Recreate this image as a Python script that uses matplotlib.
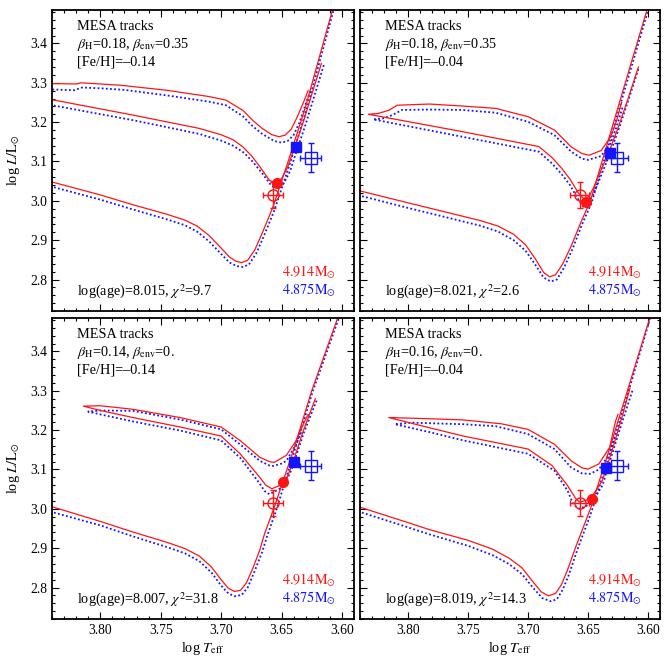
import numpy as np
import matplotlib.pyplot as plt
from matplotlib.ticker import MultipleLocator

plt.rcParams['font.family'] = ['Liberation Serif', 'DejaVu Serif']
plt.rcParams['mathtext.fontset'] = 'stix'

# ------------------------------------------------
# Data (log Teff, log L)
# ------------------------------------------------

# observed components (red = primary, blue = secondary)
obs_teff = [3.657, 3.626]
obs_logl = [3.014, 3.110]
obs_teff_err = [0.008, 0.009]
obs_logl_err = [0.033, 0.037]

# model positions at best age, one per panel
mod_red = [(3.654, 3.046), (3.652, 2.997), (3.649, 3.069), (3.647, 3.026)]
mod_blue = [(3.638, 3.137), (3.632, 3.121), (3.640, 3.118), (3.635, 3.105)]

# panel 1: beta_H=0.18, beta_env=0.35, [Fe/H]=-0.14
p1_red_low = [(3.845, 3.052), (3.80, 3.015), (3.773, 2.990), (3.745, 2.966), (3.730, 2.951),
              (3.720, 2.936), (3.710, 2.912), (3.700, 2.880), (3.693, 2.857), (3.688, 2.847),
              (3.683, 2.843), (3.678, 2.849), (3.672, 2.876), (3.665, 2.925), (3.657, 2.985),
              (3.644, 3.105), (3.630, 3.240), (3.608, 3.4835), (3.600, 3.57)]
p1_blue_low = [(3.845, 3.040), (3.80, 3.003), (3.773, 2.978), (3.745, 2.953), (3.730, 2.938),
               (3.720, 2.922), (3.710, 2.897), (3.700, 2.865), (3.693, 2.843), (3.687, 2.834),
               (3.682, 2.832), (3.677, 2.838), (3.671, 2.866), (3.664, 2.915), (3.656, 2.975),
               (3.643, 3.095), (3.629, 3.235), (3.607, 3.4835), (3.599, 3.57)]
p1_red_loop = [(3.617, 3.349), (3.625, 3.270), (3.632, 3.200), (3.638, 3.146), (3.645, 3.085),
               (3.650, 3.056), (3.655, 3.046), (3.660, 3.052), (3.668, 3.087), (3.675, 3.115),
               (3.682, 3.137), (3.690, 3.155), (3.700, 3.168), (3.718, 3.184), (3.773, 3.218),
               (3.840, 3.257), (3.870, 3.273), (3.870, 3.301), (3.840, 3.298), (3.820, 3.297),
               (3.816, 3.300), (3.800, 3.297), (3.784, 3.294), (3.745, 3.281), (3.710, 3.265),
               (3.696, 3.256), (3.682, 3.230), (3.674, 3.205), (3.666, 3.184), (3.658, 3.168),
               (3.652, 3.163), (3.647, 3.167), (3.642, 3.182), (3.637, 3.213), (3.631, 3.256),
               (3.628, 3.280)]
p1_blue_loop = [(3.615, 3.345), (3.623, 3.265), (3.630, 3.195), (3.636, 3.140), (3.643, 3.075),
                (3.648, 3.045), (3.653, 3.032), (3.658, 3.037), (3.666, 3.070), (3.674, 3.100),
                (3.681, 3.122), (3.690, 3.140), (3.700, 3.153), (3.718, 3.170), (3.773, 3.205),
                (3.840, 3.243), (3.870, 3.258), (3.870, 3.284), (3.840, 3.283), (3.822, 3.281),
                (3.815, 3.288), (3.800, 3.286), (3.780, 3.282), (3.745, 3.268), (3.710, 3.252),
                (3.696, 3.243), (3.682, 3.215), (3.674, 3.190), (3.666, 3.170), (3.656, 3.152),
                (3.650, 3.148), (3.645, 3.152), (3.640, 3.167), (3.635, 3.200), (3.629, 3.255),
                (3.626, 3.280)]

# panel 2: beta_H=0.18, beta_env=0.35, [Fe/H]=-0.04
p2_red_low = [(3.845, 3.029), (3.80, 2.995), (3.760, 2.965), (3.740, 2.950), (3.725, 2.936),
              (3.712, 2.915), (3.702, 2.888), (3.694, 2.853), (3.687, 2.818), (3.682, 2.807),
              (3.677, 2.812), (3.671, 2.840), (3.664, 2.885), (3.656, 2.945), (3.648, 3.000),
              (3.635, 3.134), (3.620, 3.289), (3.601, 3.4835), (3.593, 3.57)]
p2_blue_low = [(3.845, 3.017), (3.80, 2.982), (3.760, 2.952), (3.740, 2.937), (3.725, 2.922),
               (3.712, 2.900), (3.702, 2.873), (3.694, 2.838), (3.687, 2.805), (3.681, 2.795),
               (3.676, 2.800), (3.670, 2.830), (3.663, 2.877), (3.655, 2.940), (3.647, 2.995),
               (3.634, 3.130), (3.619, 3.287), (3.600, 3.4835), (3.592, 3.57)]
p2_red_loop = [(3.608, 3.340), (3.617, 3.256), (3.625, 3.185), (3.633, 3.121), (3.645, 3.036),
               (3.649, 3.012), (3.653, 3.003), (3.658, 3.020), (3.665, 3.055), (3.672, 3.083),
               (3.680, 3.110), (3.691, 3.138), (3.755, 3.176), (3.833, 3.220), (3.825, 3.222),
               (3.816, 3.230), (3.809, 3.243), (3.782, 3.246), (3.755, 3.241), (3.727, 3.235),
               (3.700, 3.214), (3.678, 3.180), (3.664, 3.137), (3.655, 3.120), (3.649, 3.116),
               (3.639, 3.128), (3.631, 3.163), (3.626, 3.205), (3.622, 3.250)]
p2_blue_loop = [(3.608, 3.335), (3.617, 3.250), (3.625, 3.177), (3.633, 3.110), (3.645, 3.020),
                (3.650, 2.993), (3.654, 2.985), (3.658, 3.003), (3.665, 3.040), (3.672, 3.068),
                (3.680, 3.095), (3.691, 3.125), (3.755, 3.163), (3.829, 3.207), (3.820, 3.210),
                (3.813, 3.218), (3.805, 3.231), (3.782, 3.232), (3.755, 3.231), (3.727, 3.224),
                (3.700, 3.201), (3.678, 3.167), (3.664, 3.125), (3.655, 3.107), (3.650, 3.104),
                (3.639, 3.114), (3.631, 3.147), (3.626, 3.190), (3.621, 3.240)]

# panel 3: beta_H=0.14, beta_env=0., [Fe/H]=-0.14
p3_red_low = [(3.845, 3.010), (3.80, 2.968), (3.773, 2.941), (3.745, 2.915), (3.730, 2.899),
              (3.718, 2.880), (3.708, 2.852), (3.700, 2.820), (3.694, 2.798), (3.689, 2.790),
              (3.684, 2.793), (3.679, 2.812), (3.674, 2.847), (3.668, 2.895), (3.664, 2.937),
              (3.656, 3.004), (3.640, 3.150), (3.625, 3.300), (3.604, 3.481), (3.596, 3.56)]
p3_blue_low = [(3.845, 2.996), (3.80, 2.958), (3.773, 2.930), (3.745, 2.903), (3.730, 2.887),
               (3.718, 2.867), (3.708, 2.838), (3.700, 2.805), (3.694, 2.785), (3.689, 2.778),
               (3.683, 2.781), (3.678, 2.800), (3.673, 2.836), (3.666, 2.890), (3.662, 2.930),
               (3.654, 3.000), (3.639, 3.150), (3.624, 3.300), (3.603, 3.481), (3.595, 3.56)]
p3_red_loop = [(3.622, 3.280), (3.632, 3.198), (3.641, 3.114), (3.646, 3.075), (3.652, 3.059),
               (3.658, 3.051), (3.663, 3.060), (3.668, 3.080), (3.684, 3.139), (3.700, 3.185),
               (3.734, 3.208), (3.773, 3.232), (3.800, 3.250), (3.814, 3.261), (3.800, 3.262),
               (3.773, 3.253), (3.734, 3.232), (3.700, 3.208), (3.684, 3.173), (3.668, 3.131),
               (3.660, 3.120), (3.656, 3.118), (3.646, 3.136), (3.638, 3.173), (3.632, 3.215),
               (3.628, 3.240)]
p3_blue_loop = [(3.621, 3.275), (3.632, 3.190), (3.641, 3.105), (3.646, 3.070), (3.652, 3.050),
                (3.660, 3.037), (3.664, 3.045), (3.668, 3.064), (3.684, 3.129), (3.700, 3.174),
                (3.734, 3.199), (3.773, 3.222), (3.800, 3.240), (3.810, 3.247), (3.800, 3.250),
                (3.773, 3.249), (3.734, 3.227), (3.700, 3.202), (3.684, 3.163), (3.668, 3.122),
                (3.660, 3.110), (3.657, 3.109), (3.650, 3.115), (3.646, 3.122), (3.638, 3.164),
                (3.633, 3.200)]

# panel 4: beta_H=0.16, beta_env=0., [Fe/H]=-0.04
p4_red_low = [(3.845, 3.009), (3.80, 2.965), (3.782, 2.947), (3.750, 2.920), (3.730, 2.898),
              (3.716, 2.875), (3.705, 2.850), (3.696, 2.815), (3.689, 2.789), (3.683, 2.779),
              (3.677, 2.785), (3.672, 2.808), (3.667, 2.845), (3.660, 2.905), (3.648, 3.000),
              (3.635, 3.124), (3.620, 3.272), (3.599, 3.480), (3.591, 3.56)]
p4_blue_low = [(3.845, 2.997), (3.80, 2.953), (3.782, 2.935), (3.750, 2.906), (3.730, 2.883),
               (3.716, 2.860), (3.705, 2.834), (3.696, 2.800), (3.688, 2.773), (3.681, 2.765),
               (3.676, 2.770), (3.671, 2.795), (3.666, 2.832), (3.659, 2.895), (3.647, 2.993),
               (3.634, 3.120), (3.619, 3.270), (3.599, 3.476), (3.590, 3.56)]
p4_red_loop = [(3.615, 3.307), (3.621, 3.240), (3.630, 3.148), (3.638, 3.072), (3.648, 3.025),
               (3.657, 3.017), (3.660, 3.025), (3.667, 3.059), (3.680, 3.110), (3.700, 3.152),
               (3.754, 3.185), (3.782, 3.206), (3.816, 3.232), (3.782, 3.229), (3.754, 3.226),
               (3.722, 3.216), (3.700, 3.202), (3.678, 3.164), (3.664, 3.122), (3.655, 3.104),
               (3.650, 3.101), (3.641, 3.114), (3.632, 3.156), (3.627, 3.223), (3.625, 3.240)]
p4_blue_loop = [(3.613, 3.300), (3.620, 3.235), (3.630, 3.139), (3.638, 3.059), (3.648, 3.012),
                (3.657, 3.000), (3.662, 3.010), (3.667, 3.046), (3.678, 3.097), (3.700, 3.140),
                (3.754, 3.174), (3.782, 3.195), (3.811, 3.215), (3.797, 3.219), (3.754, 3.215),
                (3.727, 3.210), (3.700, 3.190), (3.678, 3.152), (3.664, 3.105), (3.655, 3.090),
                (3.648, 3.089), (3.641, 3.100), (3.632, 3.139), (3.628, 3.180)]

panel_lines = [
    ["MESA tracks", r"$\beta_{\rm H}$=0.18, $\beta_{\rm env}$=0.35", "[Fe/H]=\u20130.14"],
    ["MESA tracks", r"$\beta_{\rm H}$=0.18, $\beta_{\rm env}$=0.35", "[Fe/H]=\u20130.04"],
    ["MESA tracks", r"$\beta_{\rm H}$=0.14, $\beta_{\rm env}$=0.", "[Fe/H]=\u20130.14"],
    ["MESA tracks", r"$\beta_{\rm H}$=0.16, $\beta_{\rm env}$=0.", "[Fe/H]=\u20130.04"],
]
ages = ["8.015", "8.021", "8.007", "8.019"]
chi2 = ["9.7", "2.6", "31.8", "14.3"]
mass_red = "4.914"
mass_blue = "4.875"

tracks = [
    (p1_red_low, p1_red_loop, p1_blue_low, p1_blue_loop),
    (p2_red_low, p2_red_loop, p2_blue_low, p2_blue_loop),
    (p3_red_low, p3_red_loop, p3_blue_low, p3_blue_loop),
    (p4_red_low, p4_red_loop, p4_blue_low, p4_blue_loop),
]

RED = '#ff1414'
BLUE = '#1414ff'
FS = 10.3

# ------------------------------------------------
# Figure and panels
# ------------------------------------------------

fig = plt.figure(figsize=(6.65, 6.62), dpi=100)

W, H = 665.0, 662.0
boxes = [(52, 10, 354, 311), (360, 10, 660, 311),
         (52, 318, 354, 619), (360, 318, 660, 619)]

axes = []
for (x0, y0, x1, y1) in boxes:
    ax = fig.add_axes([x0 / W, 1 - y1 / H, (x1 - x0) / W, (y1 - y0) / H])
    axes.append(ax)

for i, ax in enumerate(axes):
    red_low, red_loop, blue_low, blue_loop = tracks[i]

    for seg in (blue_low, blue_loop):
        s = np.array(seg)
        ax.plot(s[:, 0], s[:, 1], color=BLUE, lw=1.3, ls=(0, (1, 1.3)))
    for seg in (red_low, red_loop):
        s = np.array(seg)
        ax.plot(s[:, 0], s[:, 1], color=RED, lw=0.9)

    # model points
    ax.plot(mod_red[i][0], mod_red[i][1], 'o', color=RED, ms=7, zorder=5)
    ax.plot(mod_blue[i][0], mod_blue[i][1], 's', color=BLUE, ms=7, zorder=5)

    # observed points
    ax.errorbar(obs_teff[0], obs_logl[0], xerr=obs_teff_err[0], yerr=obs_logl_err[0],
                fmt='o', mfc='none', mec=RED, ecolor=RED, ms=8, mew=1.0,
                elinewidth=1.0, capsize=2.5, capthick=1.0, zorder=6)
    ax.errorbar(obs_teff[1], obs_logl[1], xerr=obs_teff_err[1], yerr=obs_logl_err[1],
                fmt='s', mfc='none', mec=BLUE, ecolor=BLUE, ms=8, mew=1.0,
                elinewidth=1.0, capsize=2.5, capthick=1.0, zorder=6)

    ax.set_xlim(3.84, 3.59)
    ax.set_ylim(2.72, 3.485)

    ax.xaxis.set_major_locator(MultipleLocator(0.05))
    ax.xaxis.set_minor_locator(MultipleLocator(0.01))
    ax.yaxis.set_major_locator(MultipleLocator(0.1))
    ax.yaxis.set_minor_locator(MultipleLocator(0.02))
    ax.tick_params(which='both', direction='in', top=True, right=True,
                   labelsize=9.8, width=0.8)
    ax.tick_params(which='major', length=5)
    ax.tick_params(which='minor', length=2.5)
    for sp in ax.spines.values():
        sp.set_linewidth(1.3)

    if i in (0, 1):
        ax.tick_params(labelbottom=False)
    else:
        ax.xaxis.set_major_formatter(plt.FuncFormatter(lambda v, p: f"{v:.2f}"))
        ax.set_xlabel(r"log $T_{\rm eff}$", fontsize=FS, labelpad=2)
    if i in (1, 3):
        ax.tick_params(labelleft=False)
    else:
        ax.yaxis.set_major_formatter(plt.FuncFormatter(lambda v, p: f"{v:.1f}"))
        ax.set_ylabel(r"log $L/\mathrm{L}_{\odot}$", fontsize=FS, labelpad=6)

    # ------------------------------------------------
    # Labels
    # ------------------------------------------------
    for k, line in enumerate(panel_lines[i]):
        ax.text(0.083, 0.944 - k * 0.058, line, transform=ax.transAxes,
                fontsize=FS, va='center', ha='left')
    ax.text(0.083, 0.063, f"log(age)={ages[i]}, $\\chi^2$={chi2[i]}",
            transform=ax.transAxes, fontsize=FS, va='center', ha='left')
    ax.text(0.94, 0.128, r"$\mathrm{%sM}_{\odot}$" % mass_red, color=RED,
            transform=ax.transAxes, fontsize=FS, va='center', ha='right')
    ax.text(0.94, 0.068, r"$\mathrm{%sM}_{\odot}$" % mass_blue, color=BLUE,
            transform=ax.transAxes, fontsize=FS, va='center', ha='right')

fig.savefig("out.png", dpi=100)
